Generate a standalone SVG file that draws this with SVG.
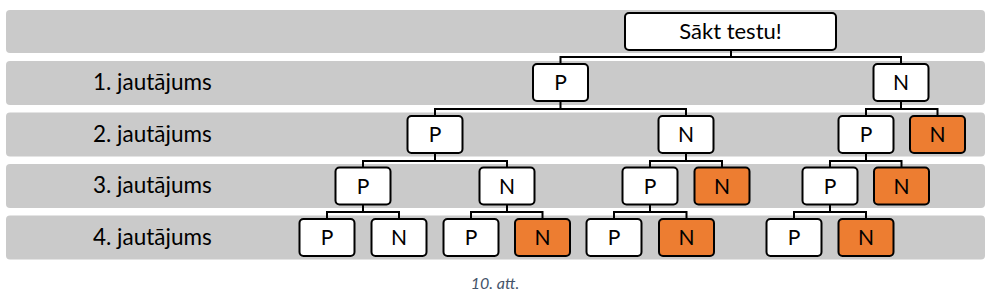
<svg xmlns="http://www.w3.org/2000/svg" width="994" height="300" viewBox="0 0 994 300">
<style>
.band{fill:#cacaca}
.lbl{font-family:Lato,"Open Sans",sans-serif;font-size:22.5px;fill:#000}
.n rect{fill:#fff;stroke:#000;stroke-width:2}
.n.o rect{fill:#ed7d31}
.n text{font-family:Lato,"Open Sans",sans-serif;font-size:21px;fill:#000;text-anchor:middle}
.c{fill:none;stroke:#000;stroke-width:2}
.cap{font-family:Lato,"Open Sans",sans-serif;font-size:16px;font-style:italic;fill:#44546a;text-anchor:middle}
</style>
<g id="bands">
<rect class="band" x="6" y="10" width="979" height="43" rx="4"/>
<rect class="band" x="6" y="61" width="979" height="44" rx="4"/>
<rect class="band" x="6" y="112.5" width="979" height="44" rx="4"/>
<rect class="band" x="6" y="164" width="979" height="44" rx="4"/>
<rect class="band" x="6" y="215.5" width="979" height="44" rx="4"/>
<text class="lbl" x="93" y="90">1. jautājums</text>
<text class="lbl" x="93" y="141.5">2. jautājums</text>
<text class="lbl" x="93" y="193">3. jautājums</text>
<text class="lbl" x="93" y="244.5">4. jautājums</text>
</g>
<g id="connectors">
<path class="c" d="M731 50V57M560.5 64V57H901V64"/>
<path class="c" d="M560.5 101V109M435 116V109H686V116"/>
<path class="c" d="M901 101V109M866 116V109H937.5V116"/>
<path class="c" d="M435 153V161M363 168V161H507V168"/>
<path class="c" d="M686 153V161M650 168V161H722V168"/>
<path class="c" d="M866 153V161M830 168V161H901.5V168"/>
<path class="c" d="M363 204V212M327 219V212H399V219"/>
<path class="c" d="M507 204V212M471 219V212H542.5V219"/>
<path class="c" d="M650 204V212M614 219V212H686.5V219"/>
<path class="c" d="M830 204V212M794 219V212H866V219"/>
</g>
<g id="root" class="n"><rect x="625" y="13" width="211" height="37" rx="4"/><text x="730.5" y="39" style="font-size:22px">Sākt testu!</text></g>
<g id="q1p" class="n"><rect x="533" y="64" width="55" height="37" rx="4"/><text x="560.5" y="90">P</text></g>
<g id="q1n" class="n"><rect x="873.5" y="64" width="55" height="37" rx="4"/><text x="901" y="90">N</text></g>
<g id="q2pp" class="n"><rect x="407.5" y="116" width="55" height="37" rx="4"/><text x="435" y="142">P</text></g>
<g id="q2pn" class="n"><rect x="658.5" y="116" width="55" height="37" rx="4"/><text x="686" y="142">N</text></g>
<g id="q2np" class="n"><rect x="838.5" y="116" width="55" height="37" rx="4"/><text x="866" y="142">P</text></g>
<g id="q2nn" class="n o"><rect x="910" y="116" width="55" height="37" rx="4"/><text x="937.5" y="142">N</text></g>
<g id="q3ppp" class="n"><rect x="335.5" y="167.5" width="55" height="37" rx="4"/><text x="363" y="193.5">P</text></g>
<g id="q3ppn" class="n"><rect x="479.5" y="167.5" width="55" height="37" rx="4"/><text x="507" y="193.5">N</text></g>
<g id="q3pnp" class="n"><rect x="622.5" y="167.5" width="55" height="37" rx="4"/><text x="650" y="193.5">P</text></g>
<g id="q3pnn" class="n o"><rect x="694.5" y="167.5" width="55" height="37" rx="4"/><text x="722" y="193.5">N</text></g>
<g id="q3npp" class="n"><rect x="802.5" y="167.5" width="55" height="37" rx="4"/><text x="830" y="193.5">P</text></g>
<g id="q3npn" class="n o"><rect x="874" y="167.5" width="55" height="37" rx="4"/><text x="901.5" y="193.5">N</text></g>
<g id="q4pppp" class="n"><rect x="299.5" y="219" width="55" height="37" rx="4"/><text x="327" y="245">P</text></g>
<g id="q4pppn" class="n"><rect x="371.5" y="219" width="55" height="37" rx="4"/><text x="399" y="245">N</text></g>
<g id="q4ppnp" class="n"><rect x="443.5" y="219" width="55" height="37" rx="4"/><text x="471" y="245">P</text></g>
<g id="q4ppnn" class="n o"><rect x="515" y="219" width="55" height="37" rx="4"/><text x="542.5" y="245">N</text></g>
<g id="q4pnpp" class="n"><rect x="586.5" y="219" width="55" height="37" rx="4"/><text x="614" y="245">P</text></g>
<g id="q4pnpn" class="n o"><rect x="659" y="219" width="55" height="37" rx="4"/><text x="686.5" y="245">N</text></g>
<g id="q4nppp" class="n"><rect x="766.5" y="219" width="55" height="37" rx="4"/><text x="794" y="245">P</text></g>
<g id="q4nppn" class="n o"><rect x="838.5" y="219" width="55" height="37" rx="4"/><text x="866" y="245">N</text></g>
<text class="cap" x="495" y="289">10. att.</text>
</svg>
